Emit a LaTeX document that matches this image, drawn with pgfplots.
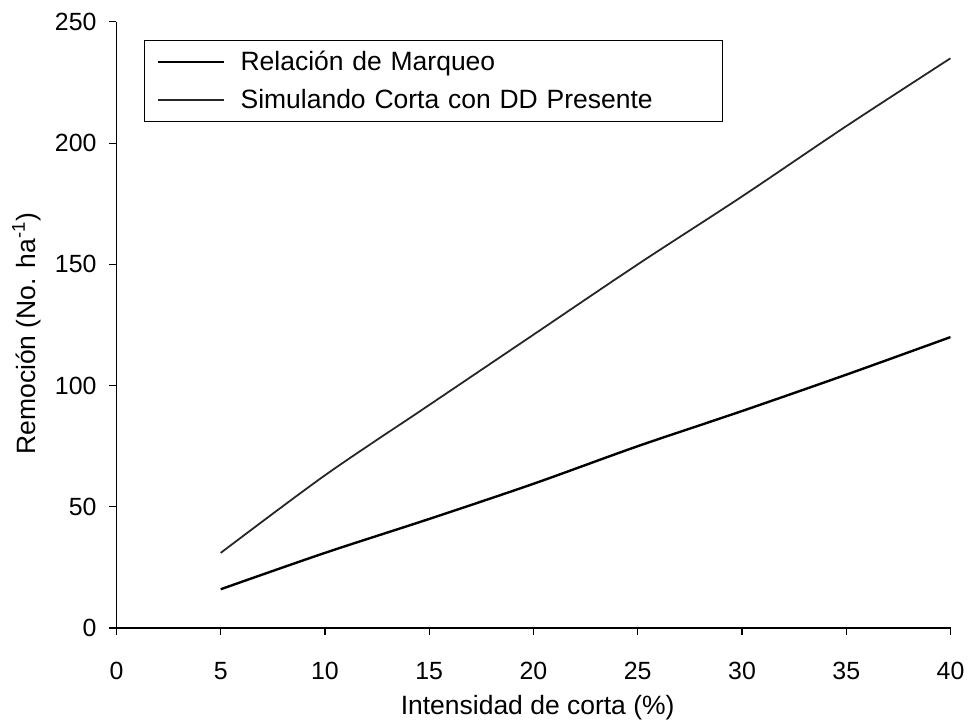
\documentclass[border=0pt]{standalone}
\usepackage{fontspec}
\setmainfont{Liberation Sans}
\usepackage{pgfplots}
\pgfplotsset{compat=1.18}

\begin{document}
\begin{tikzpicture}
\begin{axis}[
    scale only axis,
    width=419pt, height=304.5pt,
    xmin=0, xmax=40, ymin=0, ymax=250,
    axis x line*=bottom, axis y line*=left,
    axis line style={line width=0.7pt},
    xtick={0,5,...,40}, ytick={0,50,...,250},
    tick align=outside, major tick length=3.5pt,
    tick style={black, line width=0.6pt},
    /pgf/number format/assume math mode=true,
    ticklabel style={font=\fontsize{12.5}{15}\selectfont},
    xticklabel style={yshift=-10pt},
    yticklabel style={xshift=-3pt},
    xlabel={Intensidad de corta (\%)},
    ylabel={Remoción (No. ha\textsuperscript{-1})},
    label style={font=\fontsize{13.3}{15}\selectfont},
    xlabel style={at={(axis description cs:0.505,0)}, anchor=base, yshift=-43.5pt},
    ylabel style={at={(axis description cs:-0.108,0.486)}, anchor=center},
    legend style={at={(axis description cs:0.033,0.970)}, anchor=north west,
        draw=black, line width=0.7pt, inner xsep=6pt, inner ysep=3pt,
        row sep=4pt, font=\fontsize{13.3}{15}\selectfont, cells={anchor=west},
        nodes={text width=234pt},
        /tikz/every odd column/.append style={column sep=6pt}},
    legend image code/.code={\draw[#1] (0pt,0pt) -- (33pt,0pt);},
]
% Relacion de Marqueo
\addplot[black, line width=1.2pt, smooth] coordinates {
    (5,16) (10,31) (15,45) (20,59.5) (25,75) (30,89.5) (35,104.5) (40,120)
};
\addlegendentry{Relación de Marqueo}
% Simulando corta con DD presente
\addplot[black!85, line width=0.9pt, smooth] coordinates {
    (5,31) (10,63) (15,92) (20,121) (25,150) (30,178) (35,207) (40,235)
};
\addlegendentry{Simulando Corta con DD Presente}
\end{axis}
\path[use as bounding box] (current axis.south west) ++(-58.5pt,-47pt) rectangle ++(485.5pt,362.5pt);
\end{tikzpicture}
\end{document}
